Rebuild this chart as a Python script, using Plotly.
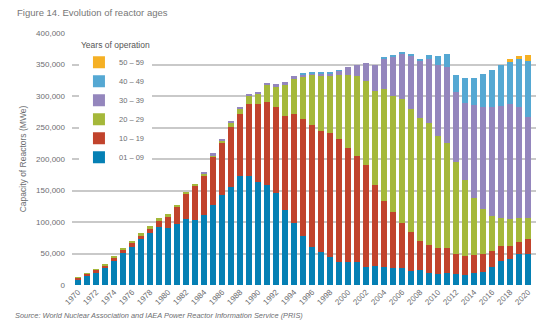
import plotly.graph_objects as go

years = list(range(1970, 2021))

y01_09 = [9.5, 14, 19.6, 27, 38.6, 51, 61, 72.5, 82, 91.5, 90.5, 97, 104, 103, 111, 127, 143, 156, 173, 173.5,
          164, 158.7, 145.5, 119, 98, 77.8, 60, 53, 44, 37, 37, 36, 29, 30.7, 29, 26.5, 26.5, 22, 23.8, 19.6,
          17.5, 18.5, 17.5, 16, 18.5, 21, 29, 38, 41, 48.7, 50]
y10_19 = [2.5, 3.5, 4.4, 4, 5.4, 6, 7, 6.5, 8, 11.5, 19, 27, 41.5, 54.6, 62, 75.6, 82, 95, 98, 114.5,
          123, 132.3, 136.5, 149, 173, 185.2, 194, 191, 198, 194.7, 181, 169, 161, 128, 104, 89.5, 71.5, 62.6, 46.2, 43.9,
          40.5, 39.5, 31.5, 30.5, 29.1, 28, 25.5, 24, 21, 20.3, 23]
y20_29 = [0.5, 0.5, 0.5, 1, 1, 2, 2, 3, 3, 3, 2.5, 3, 2.5, 2.4, 4, 3.4, 3.5, 5.5, 8, 12,
          17, 26, 33, 51, 56, 68.7, 79.8, 88, 90, 101, 115.8, 127, 134, 149.3, 177.5, 184, 196.7, 194.2, 195.6, 193.1,
          179, 167, 146.7, 120.1, 89.9, 71, 55, 45, 42, 36.8, 34]
y30_39 = [0, 0, 0, 0, 0, 0, 0, 0, 0, 0, 0, 0, 0, 0, 1, 3, 3.2, 3.2, 3.5, 2.6,
          3, 3.6, 3.5, 3, 4, 2.3, 2.2, 4, 4, 7.3, 12.7, 17, 29, 42, 49.5, 62, 73, 86.2, 90.4, 101.4,
          112, 121.5, 111.1, 122.4, 148.2, 163, 173.5, 177.6, 184, 176.2, 159]
y40_49 = [0, 0, 0, 0, 0, 0, 0, 0, 0, 0, 0, 0, 0, 0, 0, 0, 0, 0, 0, 0,
          0, 0, 0, 0, 0, 1, 1, 1, 1, 1, 0, 0, 0, 0, 2, 3, 2, 2, 3, 7,
          14.4, 19.5, 26.2, 39, 42.3, 52, 58, 64.4, 66, 76, 90]
y50_59 = [0] * 48 + [4, 6, 8.4]

series = [
    ("01 \u2013 09", y01_09, "#0580b4"),
    ("10 \u2013 19", y10_19, "#c1432c"),
    ("20 \u2013 29", y20_29, "#a5b83a"),
    ("30 \u2013 39", y30_39, "#9486bd"),
    ("40 \u2013 49", y40_49, "#55a8d3"),
    ("50 \u2013 59", y50_59, "#f5b024"),
]

tick_years = list(range(1970, 2021, 2))
ytick_vals = list(range(0, 400001, 50000))

gray = "#6d6e71"
fig = go.Figure()
for name, vals, col in series:
    fig.add_trace(go.Bar(x=years, y=[v * 1000 for v in vals], name=name,
                         marker=dict(color=col, line=dict(width=0))))

fig.update_layout(
    barmode="stack",
    bargap=0.42,
    width=550, height=333,
    margin=dict(l=72, r=14, t=33, b=48),
    paper_bgcolor="white", plot_bgcolor="white",
    font=dict(family="Liberation Sans, Arial, sans-serif", size=8, color=gray),
    showlegend=True,
    legend=dict(
        traceorder="reversed",
        x=0.015, y=0.985, xanchor="left", yanchor="top",
        bgcolor="white",
        title=dict(text="Years of operation", font=dict(size=8.5, color="#555555")),
        font=dict(size=7.5, color=gray),
        itemwidth=30,
        tracegroupgap=0,
    ),
    xaxis=dict(
        range=[1969.33, 2020.89],
        tickmode="array", tickvals=tick_years, ticktext=[str(y) for y in tick_years],
        tickangle=-45, showgrid=False, zeroline=False, showline=False,
        tickfont=dict(size=8, color=gray), ticks="",
    ),
    yaxis=dict(
        range=[0, 400000],
        tickmode="array", tickvals=ytick_vals, tickformat=",",
        showgrid=True, gridcolor="#c9c9c9", gridwidth=1.5,
        zeroline=False, showline=False,
        tickfont=dict(size=8, color=gray), ticks="", ticklabelstandoff=6,
        title=dict(text="Capacity of Reactors (MWe)", font=dict(size=8.5, color=gray), standoff=8),
    ),
    annotations=[
        dict(text="Figure 14. Evolution of reactor ages", xref="paper", yref="paper",
             x=-0.123, y=1.083, xanchor="left", yanchor="middle", showarrow=False,
             font=dict(size=9.5, color="#777777")),
        dict(text="<i>Source: World Nuclear Association and IAEA Power Reactor Information Service (PRIS)</i>",
             xref="paper", yref="paper", x=-0.127, y=-0.123, xanchor="left", yanchor="middle",
             showarrow=False, font=dict(size=7.4, color=gray)),
    ],
)

fig.write_html("out.html")
